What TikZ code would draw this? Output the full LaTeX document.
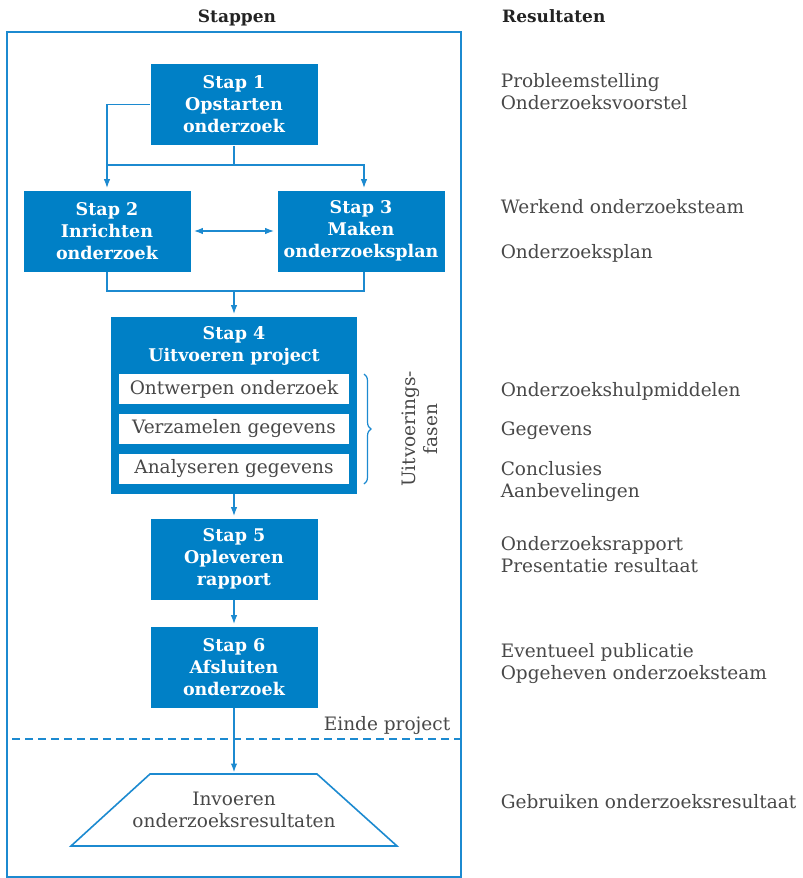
\documentclass[tikz,border=0pt]{standalone}
\usepackage{fontspec}
\setmainfont{DejaVu Serif}
\usepackage{tikz}
\usetikzlibrary{arrows.meta,decorations.pathreplacing}

\definecolor{stapblauw}{RGB}{0,128,198}
\definecolor{lijnblauw}{RGB}{28,138,208}
\definecolor{tekstgrijs}{RGB}{72,72,72}
\definecolor{kopgrijs}{RGB}{35,35,35}

\begin{document}
\begin{tikzpicture}[x=1pt, y=-1pt, line width=1.6pt,
    stap/.style = {fill=stapblauw, text=white, font=\fontsize{17.5}{22}\selectfont\bfseries,
        align=center, minimum width=167pt, minimum height=81pt, inner sep=0pt},
    fase/.style = {fill=white, text=tekstgrijs, font=\fontsize{18.5}{22}\selectfont,
        minimum width=230pt, minimum height=30pt, inner sep=0pt},
    res/.style = {text=tekstgrijs, font=\fontsize{18.5}{22}\selectfont, align=left,
        anchor=north west, inner sep=0pt},
    kop/.style = {text=kopgrijs, font=\fontsize{17}{22}\selectfont\bfseries, anchor=base},
    lijn/.style = {draw=lijnblauw},
    pijl/.style = {draw=lijnblauw, -{Latex[length=9pt,width=6.5pt]}, shorten >=1.5pt}]
\useasboundingbox (0,0) rectangle (803,878);

% kopjes
\node[kop] (stappen) at (237,23) {Stappen};
\node[kop, anchor=base west] (resultaten) at (498,23) {Resultaten};

% kader
\draw[lijn] (7,32) rectangle (461,877);

% stappen
\node[stap] (stap1) at (234,104.5) {Stap 1\\Opstarten\\onderzoek};
\node[stap] (stap2) at (107,231) {Stap 2\\Inrichten\\onderzoek};
\node[stap] (stap3) at (361,231) {Stap 3\\Maken\\onderzoeksplan};
\node[stap, minimum width=246pt, minimum height=177pt] (stap4) at (234,405) {};
\node[stap, anchor=north, minimum width=0pt, minimum height=0pt] (stap4titel) at (234,326) {Stap 4\\Uitvoeren project};
\node[fase] (fase1) at (234,389) {Ontwerpen onderzoek};
\node[fase] (fase2) at (234,429) {Verzamelen gegevens};
\node[fase] (fase3) at (234,469) {Analyseren gegevens};
\node[stap] (stap5) at (234,559) {Stap 5\\Opleveren\\rapport};
\node[stap] (stap6) at (234,667) {Stap 6\\Afsluiten\\onderzoek};

% invoeren
\draw[lijn] (150,774) -- (317,774) -- (397,846) -- (71,846) -- cycle;
\coordinate (invoertop) at (234,774);
\node[res, anchor=center, align=center] (invoer) at (234,810) {Invoeren\\onderzoeksresultaten};

% verbindingen
\coordinate (split) at (234,165);
\coordinate (samen) at (234,291);
\draw[pijl] (stap1.west) -| (stap2.north);
\draw[lijn] (stap1.south) -- (split) -- (split -| stap2.north);
\draw[pijl] (split) -| ([xshift=3pt]stap3.north);
\draw[lijn, {Latex[length=9pt,width=6.5pt]}-{Latex[length=9pt,width=6.5pt]}, shorten <=2.5pt, shorten >=2.5pt] (stap2.east) -- (stap3.west);
\draw[lijn] (stap2.south) |- (samen) -| ([xshift=3pt]stap3.south);
\draw[pijl] (samen) -- (stap4.north);
\draw[pijl] (stap4.south) -- (stap5.north);
\draw[pijl] (stap5.south) -- (stap6.north);
\draw[pijl] (stap6.south) -- (invoertop);

% accolade uitvoeringsfasen
\draw[lijnblauw, line width=1.2pt, decorate, decoration={brace, amplitude=7pt}] (364,374) -- (364,484);
\node[res, anchor=center, align=center, rotate=90] (fasen) at (420,429) {Uitvoerings-\\fasen};

% einde project
\draw[lijnblauw, dash pattern=on 8pt off 5pt] (12,739) -- (461,739);
\node[res, anchor=base east] (einde) at (451,730) {Einde project};

% resultaten
\node[res] (res1) at (500,73) {Probleemstelling\\Onderzoeksvoorstel};
\node[res] (res2) at (500,199) {Werkend onderzoeksteam};
\node[res] (res3) at (500,244) {Onderzoeksplan};
\node[res] (res4) at (500,382) {Onderzoekshulpmiddelen};
\node[res] (res5) at (500,421) {Gegevens};
\node[res] (res6) at (500,461) {Conclusies\\Aanbevelingen};
\node[res] (res7) at (500,536) {Onderzoeksrapport\\Presentatie resultaat};
\node[res] (res8) at (500,643) {Eventueel publicatie\\Opgeheven onderzoeksteam};
\node[res] (res9) at (500,794) {Gebruiken onderzoeksresultaat};
\end{tikzpicture}
\end{document}
